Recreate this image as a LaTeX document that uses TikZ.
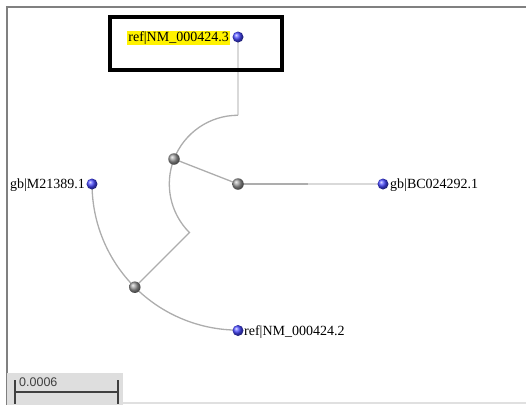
\documentclass[tikz,border=0pt]{standalone}
\usepackage{fontspec}
\setmainfont{Liberation Serif}
\newfontfamily\scalefont{Liberation Sans}
\definecolor{leafblue}{RGB}{70,70,255}
\begin{document}
\begin{tikzpicture}[x=1pt,y=1pt,
  branch/.style={draw=black!32, line width=1.3pt},
  stem/.style={draw=black!15, line width=1.3pt},
  leaf/.style={circle, inner sep=0pt, minimum size=11pt, ball color=leafblue, draw=none},
  inner/.style={circle, inner sep=0pt, minimum size=11.5pt, ball color=black!40, draw=none},
  lab/.style={font=\fontsize{14}{16}\selectfont, inner sep=1pt, text=black},
  frameline/.style={draw=black!50, line width=2pt}]
\useasboundingbox (-238,-221) rectangle (288,184);
% outer frame
\draw[draw=black!12, line width=2pt] (-231,-219) -- (288,-219);
\draw[frameline] (-232,177) -- (288,177);
\draw[frameline] (-231,177) -- (-231,-221);

% junction points of the circular tree
\coordinate (root) at (0,0);
\coordinate (topend) at (0,68.7);
\coordinate (j1) at (-48.6,-48.6);
\coordinate (p1) at (-64,25);
\coordinate (p3) at (-103.2,-103.2);
\coordinate (bmid) at (70,0);

% leaves (positions)
\coordinate (pA) at (0,147);
\coordinate (pB) at (145,0);
\coordinate (pC) at (-146,0);
\coordinate (pD) at (0,-146.5);

% branches
\draw[stem] (topend) -- (pA);
\draw[branch] (p1) arc[start angle=158.7, end angle=90, radius=68.7];
\draw[branch] (p1) arc[start angle=158.7, end angle=225, radius=68.7] -- (p3);
\draw[branch] (p1) -- (root);
\draw[branch] (root) -- (bmid);
\draw[stem] (bmid) -- (pB);
\draw[branch] (p3) arc[start angle=225, end angle=180, radius=146];
\draw[branch] (p3) arc[start angle=225, end angle=270, radius=146.5];

% balls on top of the branches
\node[inner] (n2) at (root) {};
\node[inner] (n1) at (p1) {};
\node[inner] (n3) at (p3) {};
\node[leaf] (lA) at (pA) {};
\node[leaf] (lB) at (pB) {};
\node[leaf] (lC) at (pC) {};
\node[leaf] (lD) at (pD) {};

% labels
\node[lab, fill=yellow, anchor=east] (tA) at (-8,146) {ref|NM\_000424.3};
\node[lab, anchor=west] (tB) at (151,-1) {gb|BC024292.1};
\node[lab, anchor=east] (tC) at (-152,-1) {gb|M21389.1};
\node[lab, anchor=west] (tD) at (5,-148) {ref|NM\_000424.2};

% highlight box
\draw[black, line width=4pt] (-128,167) rectangle (44,114);

% scale bar
\fill[black!13] (-231,-189) rectangle (-115,-221);
\coordinate (sL) at (-223,-208);
\coordinate (sR) at (-120,-208);
\draw[black!75, line width=1.5pt] (sL) -- (sR);
\draw[black!75, line width=1.5pt] (-223,-196) -- (-223,-220);
\draw[black!75, line width=1.5pt] (-120,-196) -- (-120,-220);
\node[anchor=west, inner sep=0pt, text=black!75, font=\scalefont\fontsize{12.5}{13}\selectfont] (sT) at (-219,-198) {0.0006};
\end{tikzpicture}
\end{document}
